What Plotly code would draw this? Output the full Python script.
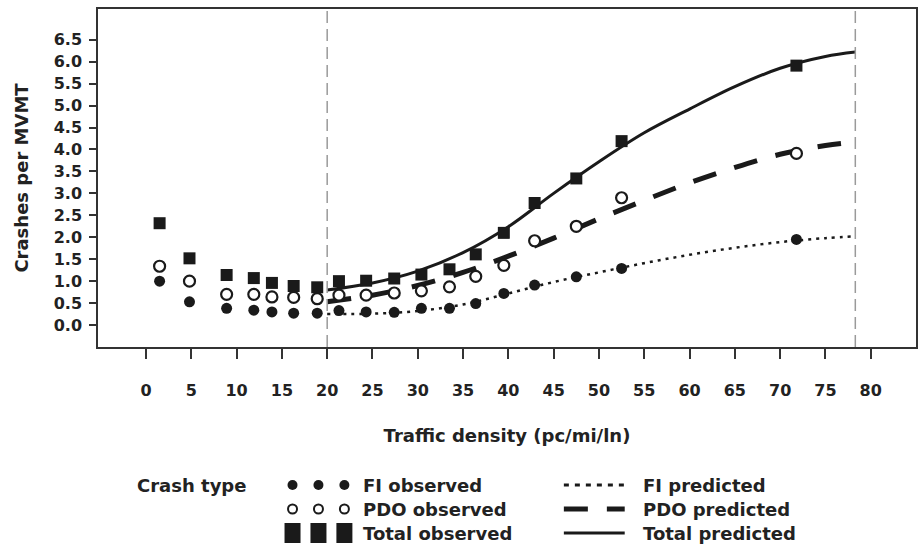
import plotly.graph_objects as go

# ---------------- data ----------------
density_obs = [1.5, 4.8, 8.9, 11.9, 13.9, 16.3, 18.9, 21.3, 24.3, 27.4, 30.4,
               33.5, 36.4, 39.5, 42.9, 47.5, 52.5, 71.8]
fi_obs = [1.00, 0.53, 0.38, 0.34, 0.30, 0.27, 0.27, 0.33, 0.30, 0.29, 0.38,
          0.38, 0.49, 0.72, 0.91, 1.10, 1.29, 1.95]
pdo_obs = [1.34, 1.00, 0.70, 0.70, 0.64, 0.63, 0.60, 0.68, 0.68, 0.73, 0.78,
           0.87, 1.11, 1.36, 1.92, 2.25, 2.90, 3.91]
total_obs = [2.32, 1.52, 1.14, 1.07, 0.96, 0.89, 0.86, 1.00, 1.01, 1.06, 1.15,
             1.27, 1.61, 2.10, 2.78, 3.34, 4.19, 5.91]

density_pred = [20, 25, 30, 35, 40, 45, 50, 55, 60, 65, 70, 75, 78.3]
fi_pred = [0.25, 0.26, 0.32, 0.47, 0.72, 0.98, 1.20, 1.41, 1.60, 1.76, 1.89, 1.98, 2.02]
pdo_pred = [0.53, 0.68, 0.90, 1.20, 1.57, 1.98, 2.42, 2.84, 3.24, 3.59, 3.89, 4.09, 4.17]
total_pred = [0.80, 0.96, 1.23, 1.65, 2.24, 3.00, 3.72, 4.38, 4.92, 5.43, 5.85, 6.12, 6.22]

reference_density = [20, 78.3]

x_ticks = list(range(0, 85, 5))
y_ticks = [0.0, 0.5, 1.0, 1.5, 2.0, 2.5, 3.0, 3.5, 4.0, 4.5, 5.0, 5.5, 6.0, 6.5]

legend_title = "Crash type"
legend_obs = ["FI observed", "PDO observed", "Total observed"]
legend_pred = ["FI predicted", "PDO predicted", "Total predicted"]

# ---------------- styling ----------------
W, H = 924, 550
ML, MR, MT, MB = 98, 6, 9, 203
PW, PH = W - ML - MR, H - MT - MB
INK = "#1a1a1a"
TXT = "#222222"
FONT = "DejaVu Sans"


def px(x):
    return (x - ML) / PW


def py(y):
    return (H - MB - y) / PH


fig = go.Figure()

# predicted curves
fig.add_trace(go.Scatter(x=density_pred, y=fi_pred, mode="lines", line_shape="spline",
                         line=dict(color=INK, width=2.5, dash="3px,5px"), name=legend_pred[0]))
fig.add_trace(go.Scatter(x=density_pred, y=pdo_pred, mode="lines", line_shape="spline",
                         line=dict(color=INK, width=5, dash="24px,19px"), name=legend_pred[1]))
fig.add_trace(go.Scatter(x=density_pred, y=total_pred, mode="lines", line_shape="spline",
                         line=dict(color=INK, width=3), name=legend_pred[2]))

# observed points
fig.add_trace(go.Scatter(x=density_obs, y=fi_obs, mode="markers",
                         marker=dict(symbol="circle", size=11, color=INK), name=legend_obs[0]))
fig.add_trace(go.Scatter(x=density_obs, y=pdo_obs, mode="markers",
                         marker=dict(symbol="circle", size=11, color="white",
                                     line=dict(color=INK, width=2.2)), name=legend_obs[1]))
fig.add_trace(go.Scatter(x=density_obs, y=total_obs, mode="markers",
                         marker=dict(symbol="square", size=12, color=INK), name=legend_obs[2]))

for xv in reference_density:
    fig.add_vline(x=xv, line=dict(color="#9a9a9a", width=1.5, dash="12px,6px"))

# ---------------- custom legend ----------------
rows_y = [485, 509, 533]
ann = []
shapes = []
ann.append(dict(x=px(135), y=py(rows_y[0]), xref="paper", yref="paper", text=legend_title,
                showarrow=False, xanchor="left", yanchor="middle",
                font=dict(family=FONT, size=18, color=TXT, weight="bold")))
sample_x = [293, 319, 345]
for i, (lo, lp) in enumerate(zip(legend_obs, legend_pred)):
    yy = py(rows_y[i])
    ann.append(dict(x=px(362), y=yy, xref="paper", yref="paper", text=lo, showarrow=False,
                    xanchor="left", yanchor="middle",
                    font=dict(family=FONT, size=18, color=TXT, weight="bold")))
    ann.append(dict(x=px(642), y=yy, xref="paper", yref="paper", text=lp, showarrow=False,
                    xanchor="left", yanchor="middle",
                    font=dict(family=FONT, size=18, color=TXT, weight="bold")))
    for sx in sample_x:
        common = dict(xref="paper", yref="paper", xsizemode="pixel", ysizemode="pixel",
                      xanchor=px(sx), yanchor=yy)
        if i == 0:
            shapes.append(dict(type="circle", x0=-5, x1=5, y0=-5, y1=5,
                               fillcolor=INK, line=dict(color=INK, width=0), **common))
        elif i == 1:
            shapes.append(dict(type="circle", x0=-4.5, x1=4.5, y0=-4.5, y1=4.5,
                               fillcolor="white", line=dict(color=INK, width=2), **common))
        else:
            shapes.append(dict(type="rect", x0=-8, x1=8, y0=-10, y1=10,
                               fillcolor=INK, line=dict(color=INK, width=0), **common))
line_styles = [dict(color=INK, width=3, dash="5px,6px"),
               dict(color=INK, width=5, dash="24px,19px"),
               dict(color=INK, width=3)]
for i, st in enumerate(line_styles):
    yy = py(rows_y[i])
    shapes.append(dict(type="line", xref="paper", yref="paper", x0=px(565), x1=px(626),
                       y0=yy, y1=yy, line=st))

fig.update_layout(
    width=W, height=H,
    margin=dict(l=ML, r=MR, t=MT, b=MB, pad=0),
    paper_bgcolor="white", plot_bgcolor="white",
    showlegend=False,
    font=dict(family=FONT, color=TXT, weight="bold"),
    annotations=ann,
    shapes=list(fig.layout.shapes) + shapes,
)
fig.update_xaxes(range=[-5.3, 85], tickvals=x_ticks, ticks="outside", ticklen=10, tickwidth=1.5,
                 tickcolor="#333", showline=True, linecolor="#333", linewidth=1.5, mirror=True,
                 showgrid=False, zeroline=False, ticklabelstandoff=18,
                 tickfont=dict(family=FONT, size=16, color=TXT, weight="bold"),
                 title=dict(text="Traffic density (pc/mi/ln)", standoff=30,
                            font=dict(family=FONT, size=18, color=TXT, weight="bold")))
fig.update_yaxes(range=[-0.5, 7.2], tickvals=y_ticks, tickformat=".1f", ticks="outside", ticklen=7,
                 tickwidth=1.5, tickcolor="#333", showline=True, linecolor="#333", linewidth=1.5,
                 mirror=True, showgrid=False, zeroline=False, ticklabelstandoff=4,
                 tickfont=dict(family=FONT, size=16, color=TXT, weight="bold"),
                 title=dict(text="Crashes per MVMT", standoff=20,
                            font=dict(family=FONT, size=18, color=TXT, weight="bold")))

fig.write_html("out.html")
